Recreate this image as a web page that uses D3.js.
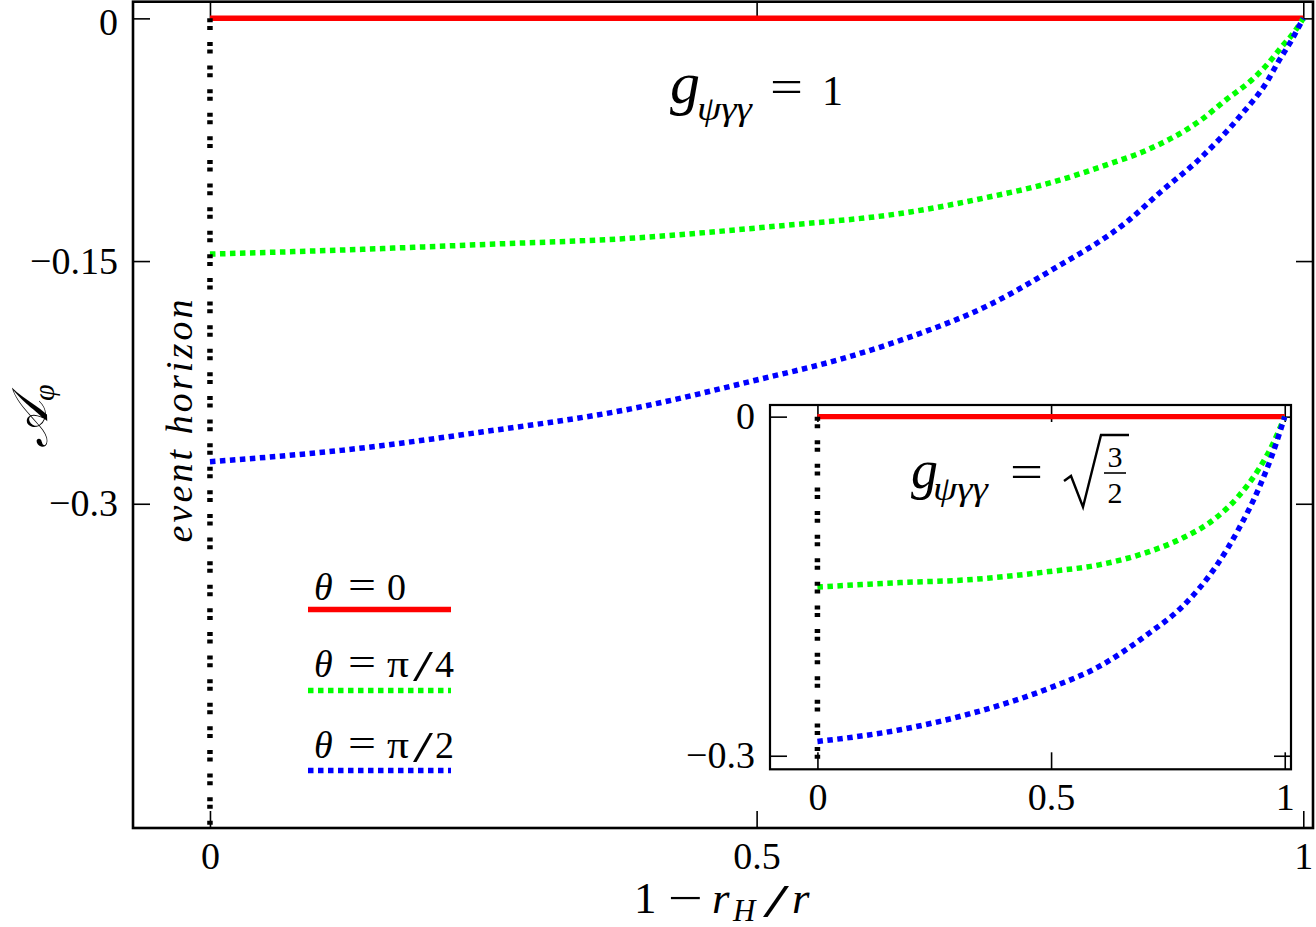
<!DOCTYPE html>
<html>
<head>
<meta charset="utf-8">
<script src="https://cdn.jsdelivr.net/npm/d3@7"></script>
<style>
  html, body { margin: 0; padding: 0; background: #fff; }
  svg { display: block; }
  text { font-family: "Liberation Serif", "Times New Roman", serif; fill: #000; }
</style>
</head>
<body>
<svg id="chart" width="1316" height="927"></svg>
<script>
// ---------------- data ----------------
const xTickValues = [0, 0.5, 1];
const xTickLabels = ["0", "0.5", "1"];
const yTickValues = [0, -0.15, -0.3];
const yTickLabels = ["0", "\u22120.15", "\u22120.3"];
const insetYTickValues = [0, -0.3];
const insetYTickLabels = ["0", "\u22120.3"];

// main panel (g = 1)
const mainX = [0, 0.12, 0.252, 0.382, 0.512, 0.642, 0.707, 0.772, 0.824, 0.857, 0.906, 0.930, 0.953, 0.967, 0.981, 0.990, 1];
const mainGreen = [-0.1457, -0.1432, -0.1397, -0.1360, -0.1288, -0.1195, -0.1112, -0.1010, -0.0896, -0.0814, -0.0630, -0.0500, -0.0380, -0.0285, -0.0170, -0.0100, 0];
const mainBlueX = [0, 0.12, 0.25, 0.38, 0.5, 0.58, 0.64, 0.71, 0.77, 0.84, 0.87, 0.905, 0.944, 0.967, 0.977, 0.988, 1];
const mainBlue = [-0.274, -0.267, -0.2555, -0.242, -0.2235, -0.210, -0.197, -0.178, -0.1555, -0.125, -0.107, -0.087, -0.059, -0.039, -0.027, -0.015, 0];
const mainRedX = [0, 1];
const mainRed = [0, 0];

// inset panel (g = sqrt(3/2))
const insetX = [0, 0.177, 0.319, 0.497, 0.603, 0.710, 0.781, 0.852, 0.902, 0.945, 0.973, 1];
const insetGreen = [-0.1508, -0.1468, -0.1444, -0.1370, -0.1311, -0.1194, -0.1075, -0.0898, -0.0700, -0.0460, -0.0255, 0];
const insetBlue = [-0.2874, -0.2770, -0.2637, -0.2401, -0.2210, -0.1915, -0.1680, -0.1330, -0.0990, -0.0630, -0.0340, 0];

const legendLabels = ["0", "\u03c0/4", "\u03c0/2"];

// ---------------- layout ----------------
const svg = d3.select("#chart");
svg.append("rect").attr("width", 1316).attr("height", 927).attr("fill", "#fff");

const RED = "#ff0000", GREEN = "#00ff00", BLUE = "#0000ff";
const DOT = "5.5,4.5";
const BLACKDASH = "4,3.6,4,12";

function panel(opts) {
  const { xDomain, xRange, yDomain, yRange, yTicks, yLabels, frameW } = opts;
  const x = d3.scaleLinear().domain(xDomain).range(xRange);
  const y = d3.scaleLinear().domain(yDomain).range(yRange);
  const g = svg.append("g");
  g.append("rect")
    .attr("x", xRange[0]).attr("y", yRange[1])
    .attr("width", xRange[1] - xRange[0]).attr("height", yRange[0] - yRange[1])
    .attr("fill", "#fff");

  const style = sel => {
    sel.select(".domain").remove();
    sel.selectAll(".tick line").attr("stroke", "#000").attr("stroke-width", 1.6);
    sel.selectAll(".tick text").style("font-family", "'Liberation Serif', serif").style("font-size", "38px").attr("fill", "#000");
  };
  g.append("g").attr("transform", `translate(0,${yRange[0]})`)
    .call(d3.axisBottom(x).tickValues(xTickValues).tickFormat((d, i) => xTickLabels[i]).tickSizeInner(-17).tickSizeOuter(0).tickPadding(14))
    .call(style);
  g.append("g").attr("transform", `translate(0,${yRange[1]})`)
    .call(d3.axisTop(x).tickValues(xTickValues).tickFormat("").tickSizeInner(-17).tickSizeOuter(0))
    .call(style);
  const left = g.append("g").attr("transform", `translate(${xRange[0]},0)`)
    .call(d3.axisLeft(y).tickValues(yTicks).tickFormat((d, i) => yLabels[i]).tickSizeInner(-17).tickSizeOuter(0).tickPadding(15))
    .call(style);
  g.append("g").attr("transform", `translate(${xRange[1]},0)`)
    .call(d3.axisRight(y).tickValues(yTicks).tickFormat("").tickSizeInner(-17).tickSizeOuter(0))
    .call(style);
  return { x, y, g, left, frame: () => g.append("rect")
    .attr("x", xRange[0]).attr("y", yRange[1])
    .attr("width", xRange[1] - xRange[0]).attr("height", yRange[0] - yRange[1])
    .attr("fill", "none").attr("stroke", "#000").attr("stroke-width", frameW) };
}

function drawSeries(p, xs, ys, color, dash, width) {
  const line = d3.line().x(d => p.x(d[0])).y(d => p.y(d[1])).curve(d3.curveMonotoneX);
  p.g.append("path")
    .datum(xs.map((v, i) => [v, ys[i]]))
    .attr("d", line)
    .attr("fill", "none").attr("stroke", color).attr("stroke-width", width)
    .attr("stroke-dasharray", dash || null).attr("stroke-linecap", "butt");
}

// ----- main panel -----
const main = panel({
  xDomain: [-0.0704, 1.0089], xRange: [133, 1313],
  yDomain: [-0.5004, 0.0103], yRange: [828, 1.7],
  yTicks: yTickValues, yLabels: yTickLabels, frameW: 2.6
});
// keep the top "0" label fully inside the page
main.left.selectAll(".tick text").filter(d => d === 0).attr("dy", "0.42em");
drawSeries(main, mainRedX, mainRed, RED, null, 5.5);
drawSeries(main, mainX, mainGreen, GREEN, DOT, 5.5);
drawSeries(main, mainBlueX, mainBlue, BLUE, DOT, 5.5);
main.g.append("line")
  .attr("x1", main.x(0)).attr("x2", main.x(0))
  .attr("y1", main.y(0)).attr("y2", main.y(-0.5004))
  .attr("stroke", "#000").attr("stroke-width", 5.5).attr("stroke-dasharray", BLACKDASH);
main.frame();

// ----- inset panel -----
const inset = panel({
  xDomain: [-0.1015, 1.0134], xRange: [770, 1291],
  yDomain: [-0.312, 0.0103], yRange: [769.3, 405],
  yTicks: insetYTickValues, yLabels: insetYTickLabels, frameW: 2.2
});
drawSeries(inset, mainRedX, mainRed, RED, null, 5.3);
drawSeries(inset, insetX, insetGreen, GREEN, DOT, 5.5);
drawSeries(inset, insetX, insetBlue, BLUE, DOT, 5.5);
inset.g.append("line")
  .attr("x1", inset.x(0)).attr("x2", inset.x(0))
  .attr("y1", inset.y(0)).attr("y2", inset.y(-0.312))
  .attr("stroke", "#000").attr("stroke-width", 5.5).attr("stroke-dasharray", BLACKDASH);
inset.frame();

// ----- helpers for math-like text -----
function txt(x, y, s, size, italic, extra) {
  const t = svg.append("text").attr("x", x).attr("y", y).style("font-size", size + "px").text(s);
  if (italic) t.style("font-style", "italic");
  if (extra) extra(t);
  return t;
}
const stretch = w => t => t.attr("textLength", w).attr("lengthAdjust", "spacingAndGlyphs");

// ----- x axis title: 1 − r_H / r -----
txt(634, 913, "1", 45);
txt(668, 913, "\u2212", 45, false, stretch(35));
txt(712, 913, "r", 45, true);
txt(733, 921, "H", 31, true);
txt(763, 917, "/", 46, false, stretch(26));
txt(792, 913, "r", 45, true);

// ----- y axis title -----
const yt = svg.append("text").attr("transform", "translate(47,448) rotate(-90)").style("font-size", "50px");
yt.append("tspan").style("font-style", "italic").text("\ud835\udc9c");
yt.append("tspan").style("font-style", "italic").style("font-size", "30px").attr("dy", 7).text("\u03c6");

svg.append("text")
  .attr("transform", "translate(192,421) rotate(-90)")
  .attr("text-anchor", "middle")
  .attr("textLength", 243).attr("lengthAdjust", "spacing")
  .style("font-style", "italic").style("font-size", "38px")
  .text("event horizon");

// ----- annotations -----
function gLabel(x0, base, gSize, subX, subBase, eqX) {
  txt(x0, base, "g", gSize, true);
  txt(subX, subBase, "\u03c8\u03b3\u03b3", 34, true, stretch(55));
  txt(eqX, base - 1, "=", 46, false, stretch(33));
}
gLabel(670, 103, 60, 697, 120, 770);
txt(822, 105, "1", 42);

gLabel(911, 488, 54, 933, 500, 1010);
// sqrt(3/2)
svg.append("path")
  .attr("d", "M1064,481 L1071,476 L1083,507 L1101,435 L1129,435")
  .attr("fill", "none").attr("stroke", "#000").attr("stroke-width", 2.4).attr("stroke-linejoin", "miter");
svg.append("text").attr("x", 1115).attr("y", 467).attr("text-anchor", "middle").style("font-size", "30px").text("3");
svg.append("line").attr("x1", 1104).attr("x2", 1126).attr("y1", 473).attr("y2", 473).attr("stroke", "#000").attr("stroke-width", 1.6);
svg.append("text").attr("x", 1115).attr("y", 503).attr("text-anchor", "middle").style("font-size", "30px").text("2");

// ----- legend -----
const legColors = [RED, GREEN, BLUE];
const legDash = [null, DOT, DOT];
const legBase = [600, 677, 758];
const legLineY = [609.5, 690.5, 770.5];
legendLabels.forEach((lab, i) => {
  txt(314, legBase[i], "\u03b8", 38, true);
  txt(348, legBase[i] - 1, "=", 40, false, stretch(28));
  if (i === 0) {
    txt(387, legBase[i], lab, 38);
  } else {
    txt(387, legBase[i], "\u03c0", 38, false, stretch(22));
    txt(413, legBase[i] + 4, "/", 44, false, stretch(20));
    txt(435, legBase[i], lab.slice(2), 38);
  }
  svg.append("line").attr("x1", 308).attr("x2", 451).attr("y1", legLineY[i]).attr("y2", legLineY[i])
    .attr("stroke", legColors[i]).attr("stroke-width", 5.5)
    .attr("stroke-dasharray", legDash[i]);
});
</script>
</body>
</html>
